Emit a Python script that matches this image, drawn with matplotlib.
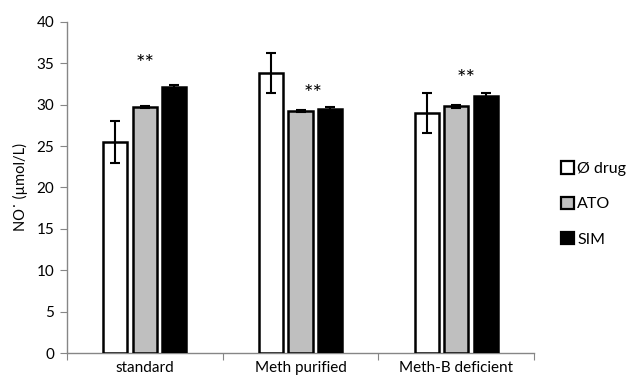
import numpy as np
import matplotlib.pyplot as plt
from matplotlib.patches import Patch

plt.rcParams['font.family'] = ['Lato', 'DejaVu Sans']

groups = ['standard', 'Meth purified', 'Meth-B deficient']
series = ['Ø drug', 'ATO', 'SIM']
colors = ['white', '#bfbfbf', 'black']

no_drug = [25.5, 33.8, 29.0]
ato = [29.7, 29.25, 29.8]
sim = [32.1, 29.5, 31.1]
no_drug_err = [2.5, 2.4, 2.4]
ato_err = [0.15, 0.1, 0.15]
sim_err = [0.3, 0.25, 0.35]

# significance marks (x offset from group center, height)
star_x = [0.0, 0.08, 0.06]
star_y = [34.9, 31.3, 33.1]

values = [no_drug, ato, sim]
errors = [no_drug_err, ato_err, sim_err]

fig = plt.figure(figsize=(6.3, 3.85), dpi=100)
ax = fig.add_axes([0.106, 0.083, 0.742, 0.86])

x = np.arange(len(groups)) + 0.5
w = 0.155
step = 0.19
for i in range(3):
    ax.bar(x + (i - 1) * step, values[i], w, color=colors[i], edgecolor='black',
           linewidth=1.8, yerr=errors[i], capsize=3.5,
           error_kw=dict(elinewidth=1.5, capthick=1.5, ecolor='black'), zorder=3)

for i in range(3):
    ax.text(x[i] + star_x[i], star_y[i], '**', ha='center', va='center', fontsize=16)

ax.set_xlim(0, 3)
ax.set_ylim(0, 40)
ax.set_yticks(range(0, 41, 5))
ax.set_xticks([0, 1, 2, 3])
ax.set_xticklabels([])
ax.set_xticks(x, minor=True)
ax.set_xticklabels(groups, minor=True, fontsize=11)
ax.tick_params(axis='x', which='minor', length=0, pad=6)
ax.tick_params(axis='x', which='major', length=5, color='#868686', direction='out')
ax.tick_params(axis='y', length=5, color='#868686', labelsize=11, pad=4)
ax.spines['top'].set_visible(False)
ax.spines['right'].set_visible(False)
for s in ['left', 'bottom']:
    ax.spines[s].set_color('#868686')
    ax.spines[s].set_linewidth(1)
ax.set_ylabel('NO\u02d9 (\u00b5mol/L)', fontsize=10.5, labelpad=6)

handles = [Patch(facecolor=c, edgecolor='black', linewidth=1.6) for c in colors]
fig.legend(handles, series, loc='center left', bbox_to_anchor=(0.868, 0.47),
           frameon=False, fontsize=11.5, handlelength=0.8, handleheight=0.8,
           handletextpad=0.2, labelspacing=1.3)

fig.savefig('out.png', dpi=100)
